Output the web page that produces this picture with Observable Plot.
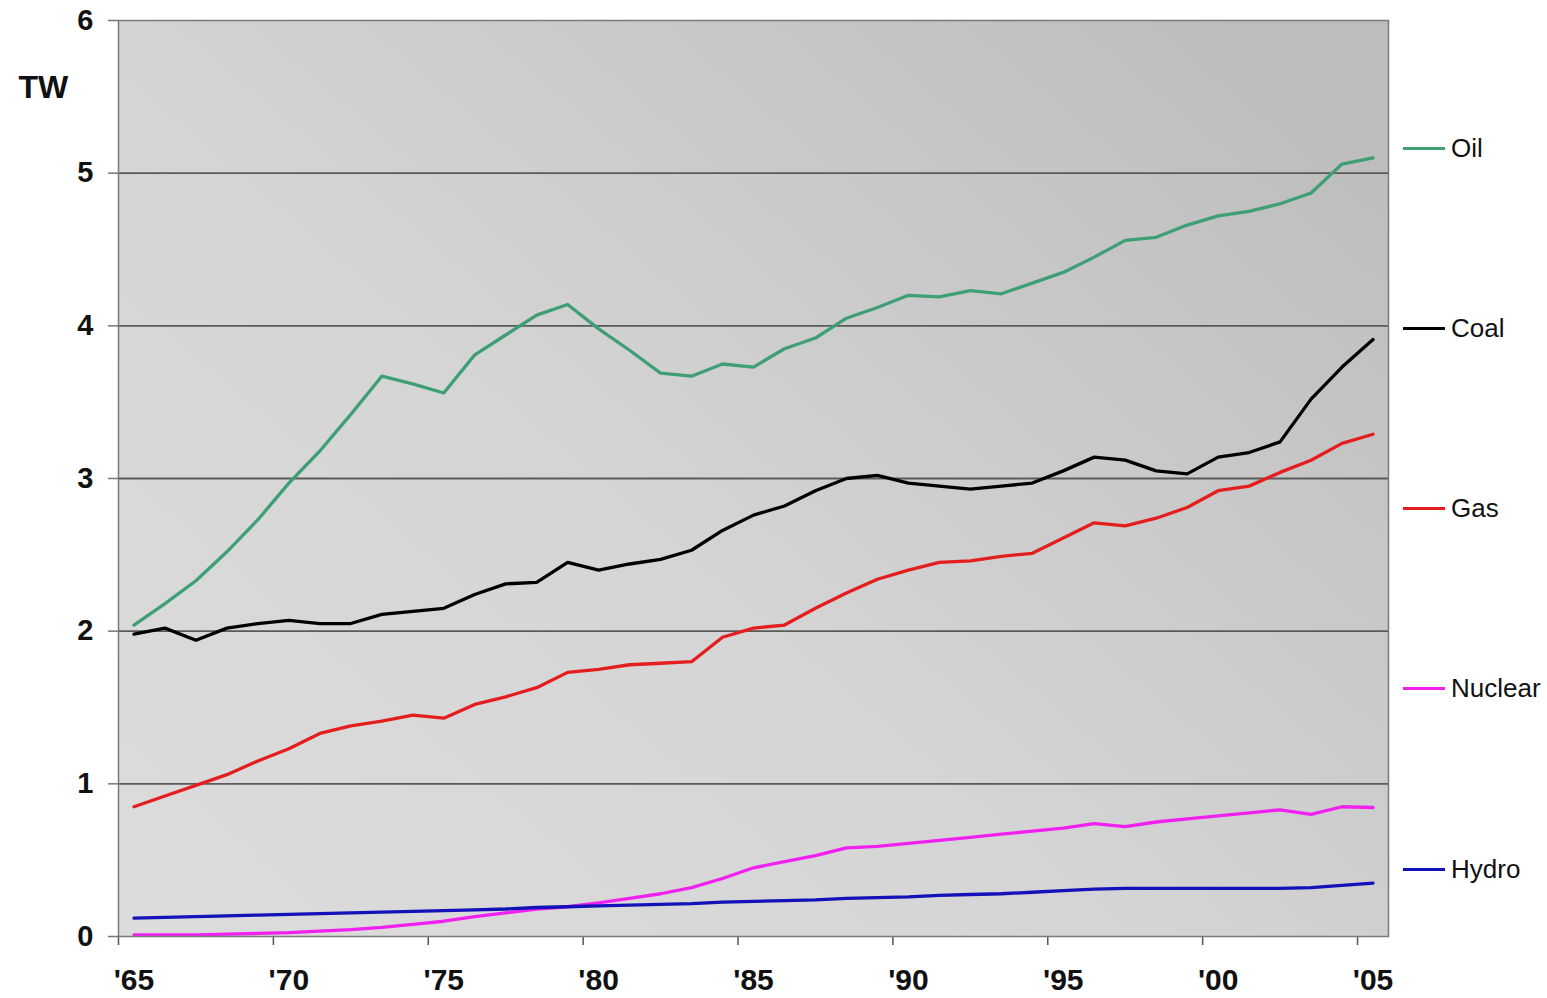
<!DOCTYPE html>
<html>
<head>
<meta charset="utf-8">
<script src="https://cdn.jsdelivr.net/npm/d3@7"></script>
<script src="https://cdn.jsdelivr.net/npm/@observablehq/plot@0.6"></script>
<style>
  body { margin: 0; background: #fff; font-family: "Liberation Sans", Arial, sans-serif; }
  #wrap { position: relative; width: 1547px; height: 998px; overflow: hidden; }
  .leg { position: absolute; left: 1403px; height: 30px; display: flex; align-items: center; font-size: 26px; color: #111; }
  .leg .sw { width: 42px; height: 3px; margin-right: 6px; }
</style>
</head>
<body>
<div id="wrap"></div>
<script>
// ---- data ----
const years = [1965,1966,1967,1968,1969,1970,1971,1972,1973,1974,1975,1976,1977,1978,1979,1980,1981,1982,1983,1984,1985,1986,1987,1988,1989,1990,1991,1992,1993,1994,1995,1996,1997,1998,1999,2000,2001,2002,2003,2004,2005];
const series = ["Oil", "Coal", "Gas", "Nuclear", "Hydro"];
const colors = ["#3f9f74", "#000000", "#e41e1e", "#f020f0", "#1212b8"];
const oil = [2.04,2.18,2.33,2.52,2.73,2.97,3.18,3.42,3.67,3.62,3.56,3.81,3.94,4.07,4.14,3.98,3.84,3.69,3.67,3.75,3.73,3.85,3.92,4.05,4.12,4.20,4.19,4.23,4.21,4.28,4.35,4.45,4.56,4.58,4.66,4.72,4.75,4.80,4.87,5.06,5.10];
const coal = [1.98,2.02,1.94,2.02,2.05,2.07,2.05,2.05,2.11,2.13,2.15,2.24,2.31,2.32,2.45,2.40,2.44,2.47,2.53,2.66,2.76,2.82,2.92,3.00,3.02,2.97,2.95,2.93,2.95,2.97,3.05,3.14,3.12,3.05,3.03,3.14,3.17,3.24,3.52,3.73,3.91];
const gas = [0.85,0.92,0.99,1.06,1.15,1.23,1.33,1.38,1.41,1.45,1.43,1.52,1.57,1.63,1.73,1.75,1.78,1.79,1.80,1.96,2.02,2.04,2.15,2.25,2.34,2.40,2.45,2.46,2.49,2.51,2.61,2.71,2.69,2.74,2.81,2.92,2.95,3.04,3.12,3.23,3.29];
const nuclear = [0.01,0.01,0.01,0.015,0.02,0.025,0.035,0.045,0.06,0.08,0.10,0.13,0.155,0.18,0.195,0.22,0.25,0.28,0.32,0.38,0.45,0.49,0.53,0.58,0.59,0.61,0.63,0.65,0.67,0.69,0.71,0.74,0.72,0.75,0.77,0.79,0.81,0.83,0.80,0.85,0.845];
const hydro = [0.12,0.125,0.13,0.135,0.14,0.145,0.15,0.155,0.16,0.165,0.17,0.175,0.18,0.19,0.195,0.20,0.205,0.21,0.215,0.225,0.23,0.235,0.24,0.25,0.255,0.26,0.27,0.275,0.28,0.29,0.30,0.31,0.315,0.315,0.315,0.315,0.315,0.315,0.32,0.335,0.35];
const yTicks = [0, 1, 2, 3, 4, 5, 6];
const xLabelYears = [1965, 1970, 1975, 1980, 1985, 1990, 1995, 2000, 2005];
const xLabels = ["'65", "'70", "'75", "'80", "'85", "'90", "'95", "'00", "'05"];
const xTickMarks = [1964.5, 1969.5, 1974.5, 1979.5, 1984.5, 1989.5, 1994.5, 1999.5, 2004.5];
const unitLabel = "TW";

const valuesBySeries = [oil, coal, gas, nuclear, hydro];
const data = series.flatMap((s, i) => years.map((yr, j) => ({series: s, year: yr, value: valuesBySeries[i][j]})));

// gradient definitions for the plot background
const defs = () => {
  const d = d3.create("svg:defs");
  const g = d.append("linearGradient").attr("id", "bgGrad")
    .attr("x1", 0).attr("y1", 1).attr("x2", 1).attr("y2", 0.15);
  g.append("stop").attr("offset", "0").attr("stop-color", "#dcdcdc");
  g.append("stop").attr("offset", "0.45").attr("stop-color", "#d5d5d5");
  g.append("stop").attr("offset", "1").attr("stop-color", "#bdbdbd");
  return d.node();
};

const chart = Plot.plot({
  width: 1547,
  height: 998,
  marginLeft: 118,
  marginRight: 159,
  marginTop: 20,
  marginBottom: 62,
  style: {fontFamily: "'Liberation Sans', Arial, sans-serif", background: "transparent", color: "#111"},
  x: {domain: [1964.5, 2005.5]},
  y: {domain: [0, 6]},
  color: {domain: series, range: colors},
  marks: [
    defs,
    Plot.frame({fill: "url(#bgGrad)", stroke: null}),
    Plot.gridY([1, 2, 3, 4, 5], {stroke: "#5a5a5a", strokeOpacity: 1, strokeWidth: 1.8}),
    Plot.axisY({ticks: yTicks, tickSize: 10, tickPadding: 15, tickFormat: (d) => String(d), fontSize: 29, fontWeight: "bold", label: null, stroke: "#777", strokeWidth: 1.5}),
    Plot.axisX({ticks: xTickMarks, tickSize: 9, tickFormat: () => "", label: null, stroke: "#555", strokeWidth: 1.5}),
    Plot.axisX({ticks: xLabelYears, tickSize: 0, tickPadding: 32, tickFormat: (d) => xLabels[xLabelYears.indexOf(d)], fontSize: 30, fontWeight: "bold", label: null}),
    Plot.lineY(data, {x: "year", y: "value", stroke: "series", strokeWidth: 3.3, z: "series"}),
    Plot.frame({stroke: "#7a7a7a", strokeWidth: 1.5}),
    Plot.text([unitLabel], {frameAnchor: "top-left", text: (d) => d, dx: -100, dy: 67, fontSize: 32, fontWeight: "bold", textAnchor: "start", lineAnchor: "middle"})
  ]
});

const wrap = document.getElementById("wrap");
wrap.appendChild(chart);

// legend on the right
series.forEach((s, i) => {
  const item = document.createElement("div");
  item.className = "leg";
  item.style.top = (148 + i * 180.3 - 15) + "px";
  const sw = document.createElement("div");
  sw.className = "sw";
  sw.style.background = colors[i];
  const lab = document.createElement("span");
  lab.textContent = s;
  item.appendChild(sw);
  item.appendChild(lab);
  wrap.appendChild(item);
});
</script>
</body>
</html>
